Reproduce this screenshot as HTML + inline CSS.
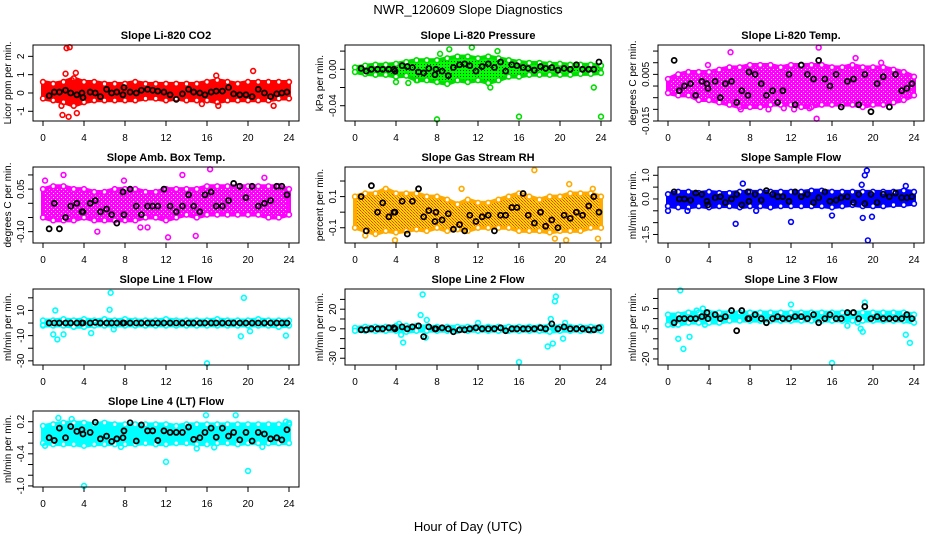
<!DOCTYPE html>
<html><head><meta charset="utf-8">
<style>
html,body{margin:0;padding:0;background:#fff;}
svg{display:block;font-family:"Liberation Sans",sans-serif;}
</style></head>
<body>
<svg id="chart" width="936" height="540" viewBox="0 0 936 540">
<defs>
<pattern id="pgreen" width="3" height="3" patternUnits="userSpaceOnUse"><rect width="3" height="3" fill="#00ff00"/><rect x="1" y="1" width="1" height="1" fill="#003300"/></pattern>
<pattern id="porange" width="3" height="3" patternUnits="userSpaceOnUse"><rect width="3" height="3" fill="#ffdd00"/><rect width="1" height="1" fill="#ff3300"/><rect x="1" y="1" width="1" height="1" fill="#ff6600"/><rect x="2" y="2" width="1" height="1" fill="#ff3300"/></pattern>
<pattern id="pmag" width="4" height="4" patternUnits="userSpaceOnUse"><rect width="4" height="4" fill="#ff00ff"/><rect x="1" y="1" width="1" height="1" fill="#ffffff"/><rect x="3" y="3" width="1" height="1" fill="#ffaaff"/></pattern>
</defs>
<text x="468" y="14" text-anchor="middle" font-size="13">NWR_120609  Slope Diagnostics</text>
<text x="468" y="531" text-anchor="middle" font-size="13">Hour of Day (UTC)</text>
</svg>
<script>
const hours=[0,1,2,3,4,5,6,7,8,9,10,11,12,13,14,15,16,17,18,19,20,21,22,23,24];
const xTicks=[0,4,8,12,16,20,24];
const blackX=[0.6,1.1,1.6,2.2,2.7,3.3,3.8,3.9,4.6,5.1,5.6,6.2,6.7,7.2,7.8,7.9,8.5,9.1,9.6,10.2,10.7,11.2,11.8,12.4,13.0,13.6,14.2,14.7,15.3,15.8,16.4,16.9,17.5,18.1,18.6,19.2,19.8,20.4,21.0,21.6,22.2,22.8,23.3,23.8];

const co2Lo=[-0.3,-0.4,-0.5,-0.7,-0.5,-0.4,-0.4,-0.4,-0.4,-0.4,-0.3,-0.3,-0.4,-0.3,-0.4,-0.4,-0.4,-0.5,-0.4,-0.4,-0.4,-0.4,-0.4,-0.3,-0.3];
const co2Hi=[0.6,0.5,0.6,0.8,0.6,0.6,0.5,0.5,0.5,0.6,0.5,0.5,0.5,0.5,0.5,0.5,0.6,0.7,0.6,0.5,0.6,0.6,0.6,0.6,0.6];
const co2OutX=[2.3,2.6,2.2,3.2,1.9,2.5,3.3,1.8,16.9,17.1,20.5,22.5,15.5,2.8];
const co2OutY=[2.45,2.5,1.05,1.1,-1.2,-1.3,-1.1,-0.7,0.95,-0.7,1.2,-0.7,-0.6,0.7];
const co2Black=[-0.15,0.05,0.05,0.15,0.0,-0.1,0.0,-0.25,0.05,0.0,-0.2,0.2,0.0,0.05,-0.1,0.3,0.05,0.0,0.15,0.2,0.15,0.1,0.05,-0.1,-0.35,-0.05,0.2,0.05,0.0,-0.1,0.05,0.1,0.1,0.3,-0.05,-0.1,-0.1,-0.2,0.2,0.0,-0.2,-0.05,0.0,0.05];
const co2Ticks=[-1,0,1,2];
const co2TickLabels=["-1","0","1","2"];

const presLo=[-0.003,-0.005,-0.006,-0.006,-0.008,-0.007,-0.012,-0.012,-0.014,-0.016,-0.012,-0.014,-0.012,-0.015,-0.012,-0.008,-0.008,-0.006,-0.006,-0.006,-0.006,-0.006,-0.005,-0.005,-0.004];
const presHi=[0.002,0.004,0.005,0.005,0.006,0.008,0.01,0.01,0.01,0.012,0.014,0.014,0.012,0.014,0.012,0.01,0.008,0.007,0.007,0.006,0.006,0.005,0.005,0.005,0.004];
const presOutX=[8,16,24,23.3,13.2,9.2,11.4,13.9,8.3,4,5.2,6.1];
const presOutY=[-0.055,-0.052,-0.052,-0.02,-0.02,0.022,0.024,0.02,0.017,-0.014,-0.015,-0.012];
const presBlack=[0.001,-0.002,0.0,0.0,0.0,0.0,0.0,-0.002,0.004,0.003,0.002,-0.003,-0.004,0.001,-0.006,0.0,-0.002,-0.007,0.002,0.005,0.006,0.004,-0.002,0.003,0.006,0.002,0.008,-0.002,0.005,0.004,0.002,0.001,-0.001,0.003,0.001,0.002,-0.001,0.001,0.0,0.005,0.0,0.0,0.0,0.008];
const presTicks=[0.02,0,-0.02,-0.04];
const presTickLabels=["","0.00","","-0.04"];

const tempLo=[-0.003,-0.004,-0.004,-0.006,-0.006,-0.007,-0.008,-0.009,-0.009,-0.009,-0.008,-0.008,-0.008,-0.009,-0.009,-0.008,-0.008,-0.008,-0.008,-0.009,-0.008,-0.008,-0.007,-0.006,-0.004];
const tempHi=[0.003,0.005,0.006,0.006,0.006,0.007,0.008,0.008,0.009,0.009,0.009,0.008,0.009,0.009,0.009,0.009,0.008,0.008,0.009,0.008,0.008,0.008,0.007,0.006,0.004];
const tempOutX=[6.1,14.7,14.5,13.8,11.3,9.8,18.3,7.1,20.8,3.9,12.3];
const tempOutY=[0.0145,0.0165,-0.014,-0.0095,-0.0095,-0.01,0.012,-0.01,0.01,0.009,-0.01];
const tempBlack=[0.011,-0.002,0.0,0.001,-0.004,0.002,0.001,-0.001,0.002,-0.005,0.001,0.002,-0.007,-0.002,-0.004,0.006,0.005,0.001,-0.004,-0.002,-0.007,-0.002,0.005,-0.008,0.009,0.005,0.003,0.011,0.003,0.0,0.005,-0.009,0.002,0.003,-0.008,0.005,-0.011,0.001,0.004,-0.009,0.005,-0.002,-0.001,0.001];
const tempTicks=[0.015,0.01,0.005,0,-0.005,-0.01,-0.015];
const tempTickLabels=["","","0.005","","","","-0.015"];

const ambLo=[-0.05,-0.06,-0.06,-0.06,-0.05,-0.06,-0.06,-0.06,-0.06,-0.06,-0.05,-0.05,-0.06,-0.05,-0.04,-0.05,-0.04,-0.04,-0.04,-0.04,-0.04,-0.04,-0.05,-0.05,-0.04];
const ambHi=[0.05,0.06,0.06,0.05,0.05,0.04,0.04,0.05,0.05,0.05,0.04,0.04,0.05,0.05,0.05,0.05,0.06,0.06,0.06,0.06,0.06,0.06,0.06,0.06,0.05];
const ambOutX=[2,16.3,13.6,12.2,14.9,5.3,9.5,0.2,21.6,10.2,7.9];
const ambOutY=[0.1,0.12,0.1,-0.12,-0.115,-0.1,-0.085,0.08,0.09,-0.085,0.08];
const ambBlack=[-0.09,0.0,-0.09,-0.05,-0.01,0.0,-0.03,-0.03,0.0,0.01,-0.03,-0.02,-0.04,-0.07,0.04,-0.04,0.05,-0.01,-0.04,-0.01,-0.01,-0.01,0.05,-0.01,-0.03,-0.01,0.03,-0.01,-0.03,0.03,0.04,-0.01,-0.01,0.01,0.07,0.06,0.02,0.06,-0.01,0.0,0.01,0.06,0.06,0.03];
const ambTicks=[0.1,0.05,0,-0.05,-0.1];
const ambTickLabels=["","0.05","","","-0.10"];

const rhLo=[-0.1,-0.12,-0.14,-0.12,-0.13,-0.12,-0.11,-0.12,-0.1,-0.12,-0.11,-0.12,-0.1,-0.1,-0.1,-0.1,-0.12,-0.12,-0.12,-0.13,-0.12,-0.12,-0.12,-0.1,-0.1];
const rhHi=[0.1,0.12,0.12,0.15,0.12,0.12,0.12,0.1,0.1,0.08,0.05,0.08,0.06,0.06,0.08,0.1,0.12,0.1,0.08,0.1,0.1,0.12,0.12,0.12,0.1];
const rhOutX=[17.5,20.9,10.4,3.9,23.7,19.5,20.6,1.0,23.2];
const rhOutY=[0.27,0.18,0.15,-0.18,-0.17,-0.17,-0.18,-0.15,0.15];
const rhBlack=[0.1,-0.12,0.17,0.0,0.06,-0.03,0.0,0.0,0.07,-0.14,0.07,0.15,-0.03,0.01,-0.06,0.0,-0.05,-0.01,-0.11,-0.08,-0.12,-0.02,-0.06,-0.03,-0.02,-0.12,-0.02,-0.02,0.03,0.03,0.12,-0.02,-0.07,0.0,-0.09,-0.05,-0.1,-0.02,-0.04,0.0,-0.02,0.04,0.1,0.0];
const rhTicks=[0.2,0.1,0,-0.1];
const rhTickLabels=["","0.1","","-0.1"];

const sfLo=[-0.3,-0.35,-0.35,-0.3,-0.35,-0.3,-0.3,-0.35,-0.3,-0.3,-0.35,-0.3,-0.3,-0.3,-0.3,-0.3,-0.35,-0.3,-0.25,-0.3,-0.3,-0.3,-0.25,-0.25,-0.2];
const sfHi=[0.2,0.3,0.3,0.25,0.3,0.25,0.25,0.3,0.3,0.3,0.3,0.3,0.3,0.3,0.35,0.35,0.3,0.3,0.3,0.3,0.3,0.3,0.3,0.35,0.3];
const sfOutX=[19.4,19.2,18.9,7.3,6.6,12,16,19,19.9,19.5,0,23.2,8.6,1.9];
const sfOutY=[1.2,1.0,0.6,0.65,-1.05,-0.97,-0.7,-0.8,-0.75,-1.75,-0.5,0.55,-0.5,-0.5];
const sfBlack=[0.3,0.0,0.0,-0.05,0.25,0.2,-0.1,-0.25,0.05,0.1,-0.15,0.0,0.2,-0.25,0.3,-0.1,0.2,-0.05,0.35,0.2,0.1,0.1,-0.1,0.3,0.1,0.2,-0.15,0.05,0.3,-0.1,-0.05,0.05,0.1,-0.15,0.2,-0.2,0.2,-0.15,0.2,0.1,0.25,0.05,0.05,0.1];
const sfTicks=[1.0,0.5,0,-0.5,-1.0,-1.5];
const sfTickLabels=["1.0","","0.0","","","-1.5"];

const l1Lo=[-2,-2,-2,-3,-3,-2,-2,-2,-2,-2,-2,-2,-2,-2,-2,-2,-2,-2,-2,-2,-2,-2,-2,-3,-2];
const l1Hi=[2,2,3,2,3,2,3,2,3,2,2,2,3,2,2,2,2,3,2,2,2,3,2,2,2];
const l1OutX=[6.6,19.6,1.2,6.5,1.0,1.4,2.0,4.7,6.9,16,19.3,20.2,23.7,0];
const l1OutY=[24,20,10,10.5,-9,-13,-9,-8,-5,-32,-10.5,-6.5,-10,-1.5];
const l1Black=[0,0,0,0,0,0,0,0,0,0.5,0,0,0,0,0,0,0,0,0,0,0,0,0,0,0,0,0,0,0,0,0,0,0,0,0,0,0,0,0,0,0,0,0,0];
const l1Ticks=[20,10,0,-10,-20,-30];
const l1TickLabels=["","10","","-10","","-30"];

const l2Lo=[-2,-2,-2,-2,-2,-3,-2,-2,-2,-2,-2,-2,-2,-2,-2,-2,-2,-2,-2,-3,-2,-2,-2,-2,-2];
const l2Hi=[1,2,2,2,3,3,3,2,2,2,2,2,2,2,2,2,2,2,2,3,2,2,2,2,2];
const l2OutX=[6.6,19.6,19.5,6.4,19.1,7,4.5,4.7,6.9,16,18.8,19.3,20.3,4.3,12,20.5];
const l2OutY=[35,33,28,14,10,9,-6,-14,-9,-34,-18,-15,-10,5,6,6];
const l2Black=[-1,-1,0,0,0,1,1,0,2,0,2,3,-8,2,0,0,1,0,-3,-1,-1,0,1,0,0,0,1,-2,0,0,0,0,0,1,0,5,0,2,0,0,0,-1,-1,1];
const l2Ticks=[30,20,10,0,-10,-20,-30];
const l2TickLabels=["","20","","0","","","-30"];

const l3Lo=[-3,-3,-2,-2,-2,-2,-1,-1,-1,-1,-1,-1,-1,-1,-1,-1,-1,-1,-1,-1,-1,-1,-1,-1,-2];
const l3Hi=[2,2,3,3,3,3,3,3,3,3,3,3,3,3,3,3,3,3,3,3,3,3,3,3,2];
const l3OutX=[1.2,12,19.2,3.4,1,1.5,2.1,3.6,17.5,18.5,18.8,19,23.2,23.6,16,2.8,0.5];
const l3OutY=[14,7,8,5,-10,-15,-9,-3,-3.5,-2,-5,-6.5,-8,-12,-22,4,-3];
const l3Black=[-2,0,0,0,0,1,3,0,2,0,1,4,-6,4,0,0,2,0,-2,0,1,0,0,1,1,0,2,-2,0,2,0,0,3,3,0,6,0,1,0,0,0,0,2,0];
const l3Ticks=[10,5,0,-5,-10,-15,-20];
const l3TickLabels=["","5","","-5","","","-20"];

const l4Lo=[-0.2,-0.22,-0.22,-0.22,-0.25,-0.22,-0.22,-0.22,-0.22,-0.22,-0.2,-0.22,-0.22,-0.2,-0.2,-0.22,-0.22,-0.2,-0.2,-0.22,-0.2,-0.2,-0.2,-0.2,-0.2];
const l4Hi=[0.12,0.15,0.18,0.18,0.18,0.15,0.18,0.15,0.15,0.15,0.15,0.15,0.15,0.12,0.15,0.15,0.15,0.15,0.15,0.15,0.15,0.15,0.15,0.15,0.15];
const l4OutX=[4,12,20,1.5,15.9,18.8,2.8,15,16.7,7.6,0.2,21.4,23.7,24];
const l4OutY=[-1.0,-0.55,-0.72,0.27,0.32,0.32,0.25,-0.3,-0.28,-0.27,-0.25,-0.27,0.2,0.18];
const l4Black=[-0.1,-0.15,0.08,-0.1,0.11,0.02,0.05,-0.03,0.0,0.19,-0.12,-0.07,-0.17,-0.12,-0.1,0.03,0.18,-0.16,0.14,0.03,0.03,-0.15,0.03,0.0,0.0,0.0,0.1,-0.13,-0.1,0.0,0.08,-0.09,0.08,-0.07,0.0,-0.14,0.0,-0.16,0.0,-0.03,-0.12,-0.1,-0.14,0.05];
const l4Ticks=[0.2,0,-0.2,-0.4,-0.6,-0.8,-1.0];
const l4TickLabels=["0.2","","","-0.4","","","-1.0"];

const panels=[
 {id:"co2",title:"Slope Li-820 CO2",ylab:"Licor ppm per min.",col:0,row:0,dom:[-1.53,2.62],ticks:co2Ticks,tl:co2TickLabels,color:"#ff0000",fill:"#ff0000",lo:co2Lo,hi:co2Hi,ox:co2OutX,oy:co2OutY,by:co2Black},
 {id:"pressure",title:"Slope Li-820 Pressure",ylab:"kPa per min.",col:1,row:0,dom:[-0.0568,0.0267],ticks:presTicks,tl:presTickLabels,color:"#00dd00",fill:"url(#pgreen)",lo:presLo,hi:presHi,ox:presOutX,oy:presOutY,by:presBlack},
 {id:"temp",title:"Slope Li-820 Temp.",ylab:"degrees C per min.",col:2,row:0,dom:[-0.015,0.0176],ticks:tempTicks,tl:tempTickLabels,color:"#ff00ff",fill:"url(#pmag)",lo:tempLo,hi:tempHi,ox:tempOutX,oy:tempOutY,by:tempBlack},
 {id:"amb-box-temp",title:"Slope Amb. Box Temp.",ylab:"degrees C per min.",col:0,row:1,dom:[-0.14,0.128],ticks:ambTicks,tl:ambTickLabels,color:"#ff00ff",fill:"url(#pmag)",lo:ambLo,hi:ambHi,ox:ambOutX,oy:ambOutY,by:ambBlack},
 {id:"gas-rh",title:"Slope Gas Stream RH",ylab:"percent per min.",col:1,row:1,dom:[-0.198,0.29],ticks:rhTicks,tl:rhTickLabels,color:"#ffaa00",fill:"url(#porange)",lo:rhLo,hi:rhHi,ox:rhOutX,oy:rhOutY,by:rhBlack},
 {id:"sample-flow",title:"Slope Sample Flow",ylab:"ml/min per min.",col:2,row:1,dom:[-1.86,1.35],ticks:sfTicks,tl:sfTickLabels,color:"#0000ff",fill:"#0000ff",lo:sfLo,hi:sfHi,ox:sfOutX,oy:sfOutY,by:sfBlack},
 {id:"line1-flow",title:"Slope Line 1 Flow",ylab:"ml/min per min.",col:0,row:2,dom:[-33.3,27],ticks:l1Ticks,tl:l1TickLabels,color:"#00ffff",fill:"#00ffff",lo:l1Lo,hi:l1Hi,ox:l1OutX,oy:l1OutY,by:l1Black},
 {id:"line2-flow",title:"Slope Line 2 Flow",ylab:"ml/min per min.",col:1,row:2,dom:[-36.9,40.6],ticks:l2Ticks,tl:l2TickLabels,color:"#00ffff",fill:"#00ffff",lo:l2Lo,hi:l2Hi,ox:l2OutX,oy:l2OutY,by:l2Black},
 {id:"line3-flow",title:"Slope Line 3 Flow",ylab:"ml/min per min.",col:2,row:2,dom:[-23,14.7],ticks:l3Ticks,tl:l3TickLabels,color:"#00ffff",fill:"#00ffff",lo:l3Lo,hi:l3Hi,ox:l3OutX,oy:l3OutY,by:l3Black},
 {id:"line4-flow",title:"Slope Line 4 (LT) Flow",ylab:"ml/min per min.",col:0,row:3,dom:[-1.02,0.4],ticks:l4Ticks,tl:l4TickLabels,color:"#00ffff",fill:"#00ffff",lo:l4Lo,hi:l4Hi,ox:l4OutX,oy:l4OutY,by:l4Black}
];

const NS="http://www.w3.org/2000/svg";
const svg=document.getElementById("chart");
const X0=[43,355,668], PH=76, HW=10.25;
function mk(tag,attrs,parent){const e=document.createElementNS(NS,tag);for(const k in attrs)e.setAttribute(k,attrs[k]);parent.appendChild(e);return e;}

panels.forEach(p=>{
  const top=45+122*p.row, bot=top+PH, left=X0[p.col]-10, right=X0[p.col]+256;
  const xAt=h=>X0[p.col]+h*HW;
  const yAt=v=>top+(p.dom[1]-v)/(p.dom[1]-p.dom[0])*PH;
  const g=mk("g",{},svg);
  
  
  const t=mk("text",{x:(left+right)/2,y:top-6,"text-anchor":"middle","font-size":"11","font-weight":"bold"},g);
  t.textContent=p.title;
  
  
  const clip=mk("g",{},g);
  
  
  let pts=hours.map((h,i)=>xAt(h)+","+yAt(p.hi[i]));
  pts=pts.concat(hours.map((h,i)=>xAt(h)+","+yAt(p.lo[i])).reverse());
  const band=mk("polygon",{points:pts.join(" "),fill:p.fill,stroke:p.color,"stroke-width":"4","stroke-linejoin":"round"},clip);
  
  
  hours.forEach((h,i)=>{
    [p.hi[i],p.lo[i]].forEach(v=>{
      const c=mk("circle",{cx:xAt(h),cy:yAt(v),r:2.4,fill:"#fff",stroke:p.color,"stroke-width":"1.6"},clip);
      
      
    });
  });
  p.ox.forEach((h,i)=>{
    const c=mk("circle",{cx:xAt(h),cy:yAt(p.oy[i]),r:2.4,fill:"none",stroke:p.color,"stroke-width":"1.6"},clip);
    
    
  });
  blackX.forEach((h,i)=>{
    if(i>=p.by.length)return;
    const c=mk("circle",{cx:xAt(h),cy:yAt(p.by[i]),r:2.5,fill:"none",stroke:"#000","stroke-width":"1.8"},clip);
    
    
  });
  const box=mk("rect",{x:left,y:top,width:right-left,height:PH,fill:"none",stroke:"#000","stroke-width":"1"},g);
  
  
  xTicks.forEach(h=>{
    const tk=mk("line",{x1:xAt(h),x2:xAt(h),y1:bot,y2:bot+5,stroke:"#000"},g);
    
    
    const tl=mk("text",{x:xAt(h),y:bot+20,"text-anchor":"middle","font-size":"10"},g);
    tl.textContent=String(h);
    
    
  });
  p.ticks.forEach((v,i)=>{
    const y=yAt(v);
    const tk=mk("line",{x1:left-5,x2:left,y1:y,y2:y,stroke:"#000"},g);
    
    
    if(p.tl[i]){
      const tl=mk("text",{x:left-9,y:y,"text-anchor":"middle","font-size":"10",transform:"rotate(-90 "+(left-9)+" "+y+")"},g);
      tl.textContent=p.tl[i];
      
      
    }
  });
  const cy=(top+bot)/2, yx=left-22;
  const yl=mk("text",{x:yx,y:cy,"text-anchor":"middle","font-size":"10",transform:"rotate(-90 "+yx+" "+cy+")"},g);
  yl.textContent=p.ylab;
  
  
});
</script>
</body></html>
